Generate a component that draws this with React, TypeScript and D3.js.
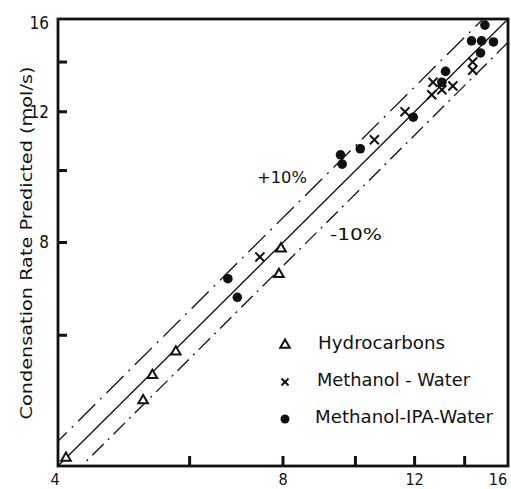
import React from 'react';
import * as d3 from 'd3';

// measured (x) vs predicted (y), mol/s
const hydrocarbons = [
  [4.1, 4.1], [5.2, 4.9], [5.35, 5.3], [5.75, 5.7], [7.9, 7.25], [7.95, 7.85],
];
const methanolWater = [
  [7.45, 7.65], [10.6, 11.0], [11.65, 12.0], [12.7, 13.15], [12.65, 12.65],
  [13.05, 12.85], [13.5, 13.0], [14.35, 14.0], [14.35, 13.65],
];
const methanolIpaWater = [
  [6.75, 7.15], [6.95, 6.75], [9.55, 10.5], [9.6, 10.2], [10.15, 10.7],
  [11.95, 11.8], [13.2, 13.6], [13.05, 13.15], [14.3, 14.95], [14.75, 14.95],
  [15.3, 14.9], [14.7, 14.4], [14.9, 15.7],
];
const tickValues = [6, 8, 10, 12, 14];
const yTickLabels = [8, 12, 16];
const xTickLabels = [4, 8, 12, 16];
// band lines as drawn in the figure (labelled +/-10 %)
const bandFactors = [1.08, 0.93];
const legendItems = ['Hydrocarbons', 'Methanol - Water', 'Methanol-IPA-Water'];

const W = 511, H = 489;
const L = 58, R = 508, T = 19, B = 466;

function Cross({ cx, cy, s }: { cx: number; cy: number; s: number }) {
  return (
    <g stroke="#111" strokeWidth={2}>
      <line x1={cx - s} y1={cy - s} x2={cx + s} y2={cy + s} />
      <line x1={cx - s} y1={cy + s} x2={cx + s} y2={cy - s} />
    </g>
  );
}

export default function App() {
  const x = d3.scaleLog().domain([4, 16]).range([L, R]);
  const y = d3.scaleLog().domain([4, 16]).range([B, T]);

  const line = d3.line<number[]>().x(d => x(d[0])).y(d => y(d[1]));
  const diag = [[4, 4], [16, 16]];
  const band = (f: number) => [[3, 3 * f], [18, 18 * f]];

  const tri = d3.symbol().type(d3.symbolTriangle).size(40)();

  const font = '"Liberation Sans Narrow", "DejaVu Sans Condensed", "Liberation Sans", sans-serif';
  const legFont = '"DejaVu Sans", sans-serif';

  return (
    <svg width={W} height={H} style={{ position: 'absolute', left: 0, top: 0, background: '#fff' }}>
      <defs>
        <clipPath id="plot">
          <rect x={L} y={T} width={R - L} height={B - T} />
        </clipPath>
      </defs>

      <g clipPath="url(#plot)" fill="none" stroke="#111" strokeWidth={1.3}>
        <path d={line(diag) ?? ''} />
        <path d={line(band(bandFactors[0])) ?? ''} strokeDasharray="24,7,2,7" />
        <path d={line(band(bandFactors[1])) ?? ''} strokeDasharray="16,6,2,6" />
      </g>

      {/* frame */}
      <rect x={L} y={T} width={R - L} height={B - T} fill="none" stroke="#111" strokeWidth={2.8} />

      {/* ticks */}
      {tickValues.map(v => (
        <line key={'yt' + v} x1={L} x2={L + 9} y1={y(v)} y2={y(v)} stroke="#111" strokeWidth={3} />
      ))}
      {tickValues.map(v => (
        <line key={'xt' + v} x1={x(v)} x2={x(v)} y1={B} y2={B - 10} stroke="#111" strokeWidth={3} />
      ))}

      {/* tick labels */}
      {yTickLabels.map(v => (
        <text key={'yl' + v} x={L - 9} y={v === 16 ? y(v) + 4 : y(v)} dy="0.35em" textAnchor="end"
          fontFamily={font} fontSize={17} fill="#111">{v}</text>
      ))}
      {xTickLabels.map(v => (
        <text key={'xl' + v} x={v === 4 ? x(v) - 3 : v === 16 ? x(v) - 10 : x(v)} y={479} dy="0.35em"
          textAnchor="middle" fontFamily={font} fontSize={16} fill="#111">{v}</text>
      ))}

      {/* y title */}
      <text transform="translate(27,243) rotate(-90)" textAnchor="middle" dy="0.35em"
        fontFamily={legFont} fontSize={15} fill="#111" textLength={353} lengthAdjust="spacingAndGlyphs">
        Condensation Rate Predicted (mol/s)
      </text>

      {/* band labels */}
      <text x={257} y={178} dy="0.35em" fontFamily={legFont} fontSize={15} fill="#111"
        textLength={50} lengthAdjust="spacingAndGlyphs">+10%</text>
      <text x={330} y={235} dy="0.35em" fontFamily={legFont} fontSize={15} fill="#111"
        textLength={52} lengthAdjust="spacingAndGlyphs">-10%</text>

      {/* points */}
      {hydrocarbons.map((d, i) => (
        <path key={'h' + i} d={tri ?? ''} transform={`translate(${x(d[0])},${y(d[1])})`}
          fill="#fff" stroke="#111" strokeWidth={2} />
      ))}
      {methanolWater.map((d, i) => (
        <Cross key={'m' + i} cx={x(d[0])} cy={y(d[1])} s={4.5} />
      ))}
      {methanolIpaWater.map((d, i) => (
        <circle key={'p' + i} cx={x(d[0])} cy={y(d[1])} r={4.8} fill="#111" />
      ))}

      {/* legend */}
      {legendItems.map((t, i) => {
        const ly = 345 + i * 37;
        const sx = 285;
        return (
          <g key={t}>
            {i === 0 && <path d={tri ?? ''} transform={`translate(${sx},${ly})`} fill="#fff" stroke="#111" strokeWidth={2} />}
            {i === 1 && <Cross cx={sx} cy={ly} s={3.5} />}
            {i === 2 && <circle cx={sx} cy={ly} r={4.5} fill="#111" />}
            <text x={[318, 317, 315][i]} y={ly - 2} dy="0.35em" fontFamily={legFont} fontSize={17} fill="#111"
              textLength={[127, 153, 178][i]} lengthAdjust="spacingAndGlyphs">{t}</text>
          </g>
        );
      })}
    </svg>
  );
}
